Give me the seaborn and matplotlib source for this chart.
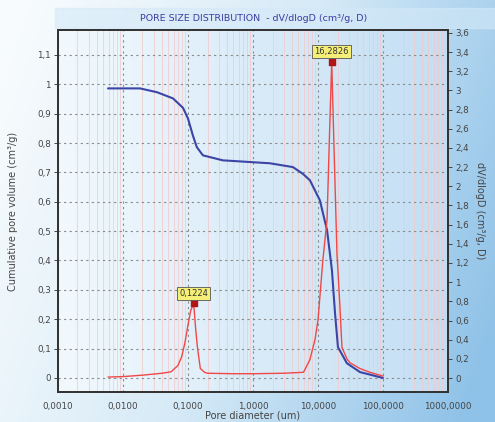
import numpy as np
import pandas as pd
import seaborn as sns
import matplotlib.pyplot as plt
from matplotlib.colors import LinearSegmentedColormap
from matplotlib.ticker import FixedLocator, LogLocator, NullFormatter, FuncFormatter
from matplotlib.patches import Rectangle

# Datos
# Volumen acumulado de poros (eje izquierdo)
diam_cum = [0.0059, 0.0183, 0.0334, 0.0588, 0.0838, 0.1, 0.119, 0.137, 0.17, 0.345,
            1.83, 4.12, 5.87, 7.53, 10.7, 13.8, 16.4, 18.3, 20.3, 27.9, 44.3, 100.0]
vol_cum = [0.986, 0.986, 0.973, 0.952, 0.92, 0.884, 0.826, 0.786, 0.758, 0.741,
           0.731, 0.718, 0.695, 0.673, 0.605, 0.503, 0.367, 0.221, 0.105, 0.05, 0.02, 0.0]

# dV/dlogD (eje derecho)
diam_dv = [0.0059, 0.01, 0.02, 0.04, 0.055, 0.07, 0.08, 0.09, 0.1, 0.11, 0.1224,
           0.132, 0.14, 0.155, 0.18, 0.2, 0.5, 1.0, 3.0, 6.0, 7.5, 9.0, 10.0, 11.9,
           13.8, 15.0, 16.2826, 17.5, 19.6, 21.8, 23.4, 27.9, 31.0, 44.0, 63.0, 100.0]
dv_dlogd = [0.01, 0.015, 0.03, 0.05, 0.065, 0.13, 0.22, 0.37, 0.55, 0.7, 0.78,
            0.5, 0.32, 0.1, 0.06, 0.05, 0.045, 0.045, 0.05, 0.06, 0.19, 0.4, 0.6, 1.23,
            1.65, 2.5, 3.3, 2.5, 1.3, 0.74, 0.32, 0.2, 0.16, 0.1, 0.06, 0.02]

picos = [0.1224, 16.2826]
picos_val = [0.78, 3.3]
picos_txt = ['0,1224', '16,2826']

xticks = [0.001, 0.01, 0.1, 1, 10, 100, 1000]
xtick_labels = ['0,0010', '0,0100', '0,1000', '1,0000', '10,0000', '100,0000', '1000,0000']

df_cum = pd.DataFrame({'d': diam_cum, 'v': vol_cum})
df_dv = pd.DataFrame({'d': diam_dv, 'v': dv_dlogd})

sns.set_style('white')
plt.rcParams['font.family'] = ['DejaVu Sans']

fig = plt.figure(figsize=(4.95, 4.22), dpi=100)

# fondo degradado de la figura
bg = fig.add_axes([0, 0, 1, 1], zorder=-10)
gx, gy = np.meshgrid(np.linspace(0, 1, 200), np.linspace(0, 1, 200))
grad = np.clip(0.85 * gx + 0.25 * gy - 0.05, 0, 1)
cmap_fig = LinearSegmentedColormap.from_list('f', ['#f7fbfd', '#d6eaf7', '#8fc2e8'])
bg.imshow(grad, cmap=cmap_fig, aspect='auto', extent=[0, 1, 0, 1], origin='upper')
bg.add_patch(Rectangle((55 / 495, 1 - 28 / 422), 1, 20 / 422, color='#d4e9f8', alpha=0.6))
bg.set_axis_off()

ax = fig.add_axes([0.117, 0.071, 0.788, 0.858])
ax.patch.set_alpha(0)
ax_grad = np.tile(np.linspace(0, 1, 200), (50, 1))
cmap_ax = LinearSegmentedColormap.from_list('a', ['#f2f9fd', '#c3def3'])
ax.imshow(ax_grad, cmap=cmap_ax, aspect='auto', extent=[0, 1, 0, 1],
          transform=ax.transAxes, zorder=0)

ax2 = ax.twinx()

sns.lineplot(data=df_cum, x='d', y='v', ax=ax, color='#3b45a6', lw=1.5, sort=False, zorder=3)
sns.lineplot(data=df_dv, x='d', y='v', ax=ax2, color='#f04848', lw=1.0, sort=False, zorder=3)

ax.set_xscale('log')
ax.set_xlim(0.001, 1000)
ax.set_ylim(-0.048, 1.185)
ax2.set_ylim(-0.146, 3.63)

ax.xaxis.set_major_locator(FixedLocator(xticks))
ax.set_xticklabels(xtick_labels)
ax.xaxis.set_minor_locator(LogLocator(base=10, subs=np.arange(2, 10)))
ax.xaxis.set_minor_formatter(NullFormatter())

coma = FuncFormatter(lambda v, p: ('%g' % round(v, 2)).replace('.', ','))
ax.set_yticks(np.round(np.arange(0, 1.11, 0.1), 2))
ax.yaxis.set_major_formatter(coma)
ax2.set_yticks(np.round(np.arange(0, 3.61, 0.2), 2))
ax2.yaxis.set_major_formatter(coma)

ax.grid(which='major', color='#8a8a8a', ls=(0, (2, 3)), lw=0.8, zorder=1)
ax.grid(which='minor', axis='x', color='#f4c8c8', ls='-', lw=0.5, zorder=1)
ax.set_axisbelow(True)

for a in (ax, ax2):
    for s in a.spines.values():
        s.set_color('#333333')
        s.set_linewidth(1.3)
    a.tick_params(labelsize=6.3, colors='#444444', length=3, width=0.7, pad=2)
ax.tick_params(axis='x', which='minor', length=2, width=0.5, colors='#555555')
ax.tick_params(axis='x', pad=4)

ax.set_xlabel('Pore diameter (um)', fontsize=7, color='#444444', labelpad=0)
ax.set_ylabel('Cumulative pore volume (cm\u00b3/g)', fontsize=7, color='#444444', labelpad=14)
ax2.set_ylabel('dV/dlogD (cm\u00b3/g, D)', fontsize=7, color='#444444', rotation=270, labelpad=12)

# marcadores y etiquetas de los picos
ax2.scatter(picos, picos_val, marker='s', s=14, color='#b01515', zorder=5)
for xp, yp, t in zip(picos, picos_val, picos_txt):
    ax2.annotate(t, xy=(xp, yp), xytext=(0, 4), textcoords='offset points',
                 ha='center', va='bottom', fontsize=6, color='#333333', zorder=6,
                 bbox=dict(boxstyle='square,pad=0.25', fc='#f5ef78', ec='#555555', lw=0.6))

fig.text(0.513, 0.957, 'PORE SIZE DISTRIBUTION  - dV/dlogD (cm\u00b3/g, D)',
         ha='center', va='center', fontsize=6.8, color='#3d3da0')

fig.savefig('out.png', dpi=100)
